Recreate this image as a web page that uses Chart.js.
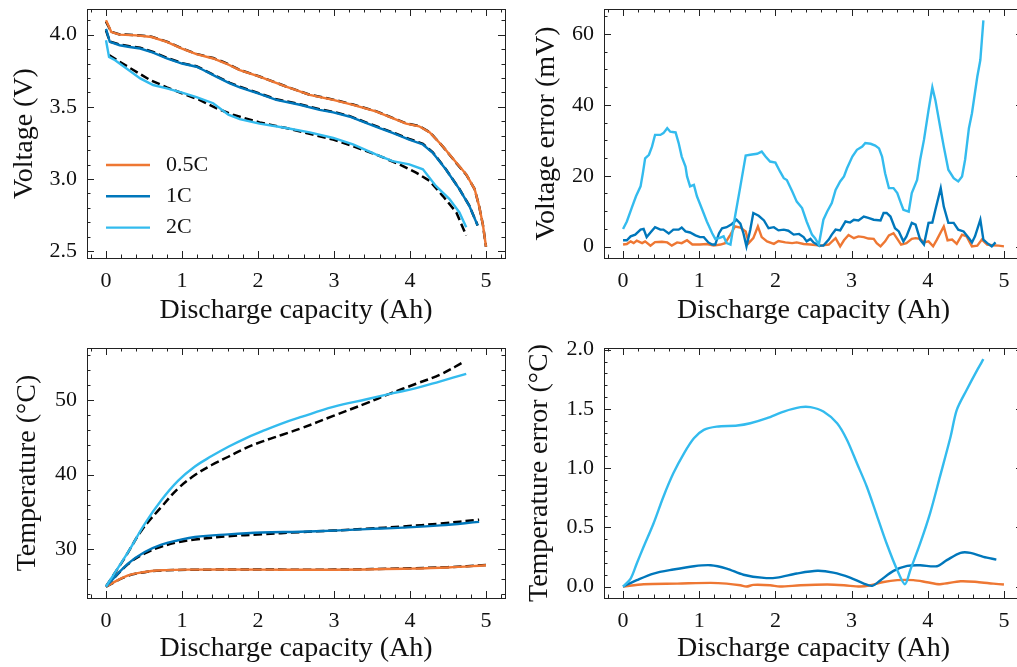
<!DOCTYPE html>
<html>
<head>
<meta charset="utf-8">
<script src="https://cdn.jsdelivr.net/npm/chart.js@4.4.0/dist/chart.umd.min.js"></script>
<style>
  html, body { margin: 0; padding: 0; background: #fff; overflow: hidden; width: 1017px; height: 667px; }
  canvas { position: absolute; }
</style>
</head>
<body>
<canvas id="voltage" width="510" height="330" style="left:0;top:0"></canvas>
<canvas id="voltErr" width="511" height="330" style="left:517px;top:0"></canvas>
<canvas id="temp" width="510" height="337" style="left:0;top:330px"></canvas>
<canvas id="tempErr" width="511" height="337" style="left:517px;top:330px"></canvas>
<script>
// ---- data ----
const seriesNames = ['0.5C', '1C', '2C'];
const capTicks = [0, 1, 2, 3, 4, 5];
const voltTicks = [2.5, 3.0, 3.5, 4.0];
const voltErrTicks = [0, 20, 40, 60];
const tempTicks = [30, 40, 50];
const tempErrTicks = [0, 0.5, 1.0, 1.5, 2.0];

// voltage (V), model = solid, measured = dashed
const capV05 = [0, 0.07, 0.18, 0.4, 0.6, 0.8, 1.0, 1.19, 1.41, 1.58, 1.76, 2.02, 2.37, 2.68, 2.99, 3.25, 3.55, 3.77, 3.95, 4.12, 4.26, 4.43, 4.61, 4.74, 4.85, 4.91, 4.96, 5.0];
const volt05Sim = [4.10, 4.018, 4.0, 3.995, 3.984, 3.95, 3.904, 3.865, 3.835, 3.80, 3.755, 3.709, 3.64, 3.583, 3.548, 3.514, 3.468, 3.422, 3.383, 3.365, 3.323, 3.227, 3.112, 3.032, 2.93, 2.81, 2.68, 2.53];
const volt05Exp = [4.09, 4.02, 4.002, 3.997, 3.986, 3.952, 3.905, 3.867, 3.838, 3.803, 3.756, 3.71, 3.641, 3.584, 3.55, 3.516, 3.47, 3.423, 3.385, 3.367, 3.324, 3.226, 3.11, 3.03, 2.93, 2.81, 2.68, 2.53];

const capV1 = [0, 0.05, 0.18, 0.31, 0.45, 0.62, 0.8, 1.0, 1.19, 1.28, 1.45, 1.63, 1.76, 2.02, 2.24, 2.55, 2.81, 2.99, 3.2, 3.42, 3.6, 3.77, 3.99, 4.17, 4.3, 4.47, 4.65, 4.78, 4.89];
const volt1Sim = [4.04, 3.95, 3.927, 3.915, 3.904, 3.876, 3.835, 3.80, 3.778, 3.755, 3.709, 3.663, 3.635, 3.589, 3.548, 3.514, 3.479, 3.461, 3.433, 3.388, 3.353, 3.319, 3.273, 3.239, 3.181, 3.067, 2.929, 2.814, 2.677];
const volt1Exp = [4.03, 3.952, 3.932, 3.92, 3.909, 3.88, 3.84, 3.803, 3.781, 3.758, 3.712, 3.666, 3.64, 3.593, 3.552, 3.518, 3.484, 3.465, 3.437, 3.392, 3.357, 3.323, 3.277, 3.244, 3.184, 3.069, 2.93, 2.815, 2.678];

const capV2 = [0, 0.04, 0.12, 0.27, 0.45, 0.62, 0.8, 1.0, 1.19, 1.41, 1.61, 1.76, 2.02, 2.37, 2.68, 2.99, 3.25, 3.55, 3.77, 3.99, 4.17, 4.34, 4.52, 4.65, 4.74];
const volt2Sim = [3.961, 3.846, 3.823, 3.766, 3.697, 3.651, 3.628, 3.599, 3.567, 3.525, 3.445, 3.415, 3.383, 3.353, 3.323, 3.284, 3.239, 3.170, 3.124, 3.101, 3.067, 2.952, 2.86, 2.768, 2.665];
const capV2Exp = [0.04, 0.18, 0.36, 0.58, 0.8, 1.0, 1.23, 1.45, 1.67, 2.02, 2.37, 2.72, 2.99, 3.25, 3.55, 3.86, 4.08, 4.26, 4.43, 4.61, 4.74];
const volt2Exp = [3.858, 3.812, 3.755, 3.686, 3.635, 3.594, 3.548, 3.491, 3.445, 3.392, 3.353, 3.307, 3.273, 3.227, 3.170, 3.101, 3.044, 2.986, 2.883, 2.768, 2.608];

// voltage error (mV)
const capVe05 = [0, 0.05, 0.1, 0.14, 0.18, 0.25, 0.29, 0.36, 0.42, 0.51, 0.58, 0.64, 0.71, 0.77, 0.84, 0.91, 1.01, 1.1, 1.19, 1.28, 1.34, 1.41, 1.47, 1.54, 1.61, 1.65, 1.71, 1.77, 1.82, 1.89, 1.98, 2.04, 2.13, 2.22, 2.28, 2.37, 2.46, 2.59, 2.7, 2.79, 2.85, 2.9, 2.96, 3.03, 3.09, 3.16, 3.22, 3.29, 3.33, 3.38, 3.44, 3.49, 3.55, 3.6, 3.65, 3.72, 3.79, 3.84, 3.9, 3.95, 4.01, 4.07, 4.12, 4.21, 4.26, 4.32, 4.38, 4.45, 4.51, 4.58, 4.65, 4.71, 4.78, 4.84, 4.93, 5.0];
const errV05 = [0.6, 0.75, 1.5, 1.0, 1.7, 1.0, 1.5, 0.3, 1.3, 1.4, 1.2, 0.3, 1.2, 1.0, 1.8, 0.6, 0.6, 0.75, 0.3, 0.6, 1.0, 3.4, 5.7, 5.4, 4.3, 1.0, 2.4, 5.7, 2.7, 1.5, 0.8, 1.6, 1.2, 1.0, 1.2, 0.75, 0.6, 0.3, 0.6, 2.4, 0.1, 1.8, 3.3, 2.4, 2.9, 2.7, 2.3, 2.2, 1.0, 0.1, 1.5, 3.2, 3.8, 2.2, 0.6, 1.0, 2.2, 2.4, 2.2, 1.2, 1.5, 0.1, 2.0, 5.7, 1.8, 2.0, 0.8, 3.4, 2.9, 0.1, 0.3, 2.0, 0.6, 0.4, 0.3, 0.1];
const capVe1 = [0, 0.05, 0.1, 0.16, 0.23, 0.27, 0.31, 0.36, 0.42, 0.49, 0.53, 0.6, 0.66, 0.73, 0.77, 0.82, 0.88, 0.95, 1.01, 1.06, 1.12, 1.17, 1.21, 1.26, 1.3, 1.36, 1.43, 1.49, 1.54, 1.58, 1.62, 1.67, 1.71, 1.78, 1.85, 1.91, 1.98, 2.04, 2.11, 2.17, 2.24, 2.31, 2.37, 2.41, 2.46, 2.5, 2.57, 2.63, 2.7, 2.74, 2.79, 2.85, 2.92, 2.98, 3.03, 3.09, 3.16, 3.22, 3.29, 3.38, 3.42, 3.46, 3.51, 3.57, 3.62, 3.68, 3.72, 3.79, 3.84, 3.9, 3.95, 4.01, 4.06, 4.1, 4.17, 4.21, 4.27, 4.34, 4.4, 4.47, 4.54, 4.58, 4.62, 4.69, 4.73, 4.78, 4.84, 4.89];
const errV1 = [1.8, 1.8, 2.9, 3.4, 4.8, 5.0, 2.7, 4.0, 5.5, 4.8, 4.8, 3.7, 4.8, 4.8, 5.4, 4.3, 4.0, 3.2, 2.7, 2.7, 1.2, 0.6, 0.6, 3.8, 5.2, 5.5, 6.4, 7.6, 6.5, 3.8, 0.1, 4.8, 9.5, 8.7, 7.4, 5.2, 5.5, 4.6, 4.8, 4.5, 3.4, 3.6, 2.7, 1.5, 2.2, 1.2, 0.3, 0.3, 2.0, 3.4, 4.8, 4.6, 7.1, 6.8, 7.6, 7.4, 8.5, 8.1, 7.6, 7.4, 9.5, 9.5, 8.5, 5.2, 4.3, 1.5, 2.9, 6.7, 6.2, 2.0, 0.6, 6.7, 6.8, 10.4, 16.5, 11.3, 6.7, 6.7, 4.8, 4.3, 2.4, 1.2, 2.9, 7.6, 2.0, 1.0, 0.1, 1.2];
const capVe2 = [0, 0.05, 0.12, 0.17, 0.23, 0.26, 0.29, 0.34, 0.38, 0.42, 0.49, 0.53, 0.58, 0.62, 0.69, 0.73, 0.77, 0.82, 0.84, 0.88, 0.93, 0.97, 1.04, 1.1, 1.17, 1.21, 1.26, 1.32, 1.36, 1.41, 1.47, 1.54, 1.61, 1.67, 1.76, 1.82, 1.87, 1.93, 2.0, 2.06, 2.11, 2.15, 2.22, 2.28, 2.35, 2.41, 2.48, 2.52, 2.57, 2.63, 2.68, 2.74, 2.79, 2.85, 2.9, 2.94, 3.01, 3.07, 3.14, 3.18, 3.25, 3.31, 3.36, 3.4, 3.44, 3.49, 3.55, 3.6, 3.64, 3.68, 3.75, 3.79, 3.86, 3.9, 3.95, 4.01, 4.06, 4.1, 4.17, 4.21, 4.27, 4.34, 4.4, 4.45, 4.49, 4.54, 4.58, 4.65, 4.69, 4.73];
const errV2 = [5.0, 7.1, 11.3, 14.2, 17, 20.7, 24.9, 25.9, 28.2, 31.5, 31.5, 32, 33.4, 32.4, 32.2, 29.2, 25.4, 22.6, 19.8, 17, 17.4, 14.2, 10.4, 7.1, 3.8, 2.2, 2.4, 2.9, 1.0, 0.6, 8.5, 17, 25.7, 25.9, 26.2, 26.8, 25.4, 24, 23.7, 21.2, 19.3, 18.8, 15.6, 12.7, 10.9, 7.1, 3.4, 2.4, 0.6, 7.6, 9.9, 12.3, 16, 18.4, 19.8, 22.1, 25.4, 27.3, 28.2, 29.2, 29, 28.5, 27.7, 25.4, 20.7, 16.5, 16.5, 15.1, 12.7, 10.4, 9.9, 15.1, 18.8, 24.5, 30.1, 38.5, 44.9, 41.3, 32.9, 28.2, 21.7, 19.3, 18.4, 19.8, 24.5, 33.4, 37.6, 47.9, 52.6, 63.8];

// temperature (°C)
const capT05 = [0, 0.29, 0.51, 0.73, 1.17, 2.0, 3.0, 4.0, 4.5, 5.0];
const temp05Sim = [25, 26.5, 26.95, 27.18, 27.27, 27.27, 27.25, 27.4, 27.55, 27.85];
const temp05Exp = [25, 26.45, 26.92, 27.15, 27.25, 27.27, 27.27, 27.45, 27.6, 27.88];
const capT1 = [0, 0.29, 0.51, 0.73, 0.95, 1.17, 1.61, 2.05, 2.55, 2.99, 3.43, 3.9, 4.4, 4.91];
const temp1Sim = [25, 28.08, 29.64, 30.63, 31.21, 31.65, 32.0, 32.24, 32.35, 32.5, 32.7, 32.9, 33.2, 33.67];
const temp1Exp = [25, 28.0, 29.45, 30.35, 30.95, 31.3, 31.75, 32.0, 32.3, 32.5, 32.75, 33.05, 33.45, 33.97];
const capT2 = [0, 0.29, 0.51, 0.73, 0.95, 1.17, 1.39, 1.61, 1.83, 2.05, 2.31, 2.57, 2.99, 3.43, 3.78, 4.08, 4.39, 4.74];
const temp2Sim = [25, 29.6, 33.4, 36.6, 39.2, 41.1, 42.5, 43.75, 44.85, 45.8, 46.85, 47.75, 49.1, 50.13, 50.94, 51.61, 52.5, 53.54];
const capT2Exp = [0, 0.25, 0.47, 0.73, 0.95, 1.17, 1.39, 1.61, 1.83, 2.05, 2.31, 2.57, 2.99, 3.43, 3.73, 4.08, 4.39, 4.72];
const temp2Exp = [25, 28.9, 32.55, 35.69, 38.16, 39.95, 41.3, 42.41, 43.54, 44.43, 45.33, 46.23, 47.89, 49.6, 50.85, 52.2, 53.4, 55.2];

// temperature error (°C)
const capTe05 = [0, 0.27, 0.71, 1.15, 1.36, 1.54, 1.62, 1.71, 1.93, 2.06, 2.33, 2.68, 2.9, 3.11, 3.25, 3.42, 3.6, 3.81, 3.99, 4.16, 4.43, 4.65, 4.86, 5.0];
const errT05 = [0, 0.02, 0.025, 0.031, 0.025, 0.011, 0.0, 0.014, 0.011, 0.0, 0.011, 0.017, 0.011, 0.0, 0.011, 0.039, 0.054, 0.054, 0.037, 0.02, 0.045, 0.039, 0.025, 0.017];
const capTe1 = [0, 0.18, 0.4, 0.66, 0.93, 1.15, 1.36, 1.58, 1.85, 2.02, 2.28, 2.55, 2.76, 2.98, 3.16, 3.27, 3.38, 3.55, 3.73, 3.9, 4.12, 4.25, 4.43, 4.56, 4.73, 4.9];
const errT1 = [0, 0.054, 0.11, 0.144, 0.172, 0.18, 0.152, 0.10, 0.073, 0.076, 0.11, 0.133, 0.118, 0.076, 0.025, 0.006, 0.054, 0.133, 0.175, 0.18, 0.172, 0.223, 0.285, 0.285, 0.251, 0.228];
const capTe2 = [0, 0.1, 0.18, 0.27, 0.4, 0.53, 0.66, 0.8, 0.93, 1.06, 1.23, 1.5, 1.67, 1.89, 2.11, 2.33, 2.46, 2.63, 2.81, 2.94, 3.07, 3.2, 3.33, 3.46, 3.6, 3.7, 3.77, 3.9, 4.03, 4.16, 4.3, 4.38, 4.51, 4.65, 4.73];
const errT2 = [0, 0.068, 0.195, 0.336, 0.533, 0.759, 0.956, 1.125, 1.252, 1.323, 1.351, 1.36, 1.379, 1.422, 1.478, 1.515, 1.515, 1.478, 1.379, 1.238, 1.041, 0.843, 0.604, 0.364, 0.138, 0.02, 0.138, 0.364, 0.618, 0.928, 1.267, 1.49, 1.66, 1.83, 1.92];

// ---- styling ----
const ORANGE = '#EE7733', BLUE = '#0077BB', CYAN = '#33BBEE';
const seriesColors = [ORANGE, BLUE, CYAN];
const FONT = '"Liberation Serif", "Times New Roman", serif';

Chart.defaults.font.family = FONT;
Chart.defaults.color = '#111';

const pts = (xs, ys) => xs.map((x, i) => ({x: x, y: ys[i]}));

function solid(xs, ys, color, extra) {
  return Object.assign({data: pts(xs, ys), borderColor: color, borderWidth: 2.4,
    pointRadius: 0, fill: false, tension: 0}, extra || {});
}
function dashed(xs, ys, extra) {
  return Object.assign({data: pts(xs, ys), borderColor: '#000', borderWidth: 2.5,
    borderDash: [8.5, 4], pointRadius: 0, fill: false, tension: 0}, extra || {});
}

function minorVals(scale, step) {
  const out = [];
  for (let i = Math.ceil(scale.min / step - 1e-9); i * step <= scale.max + 1e-9; i++) out.push(i * step);
  return out;
}

// inward ticks on all four sides + box frame (matplotlib look)
const frameTicks = {
  id: 'frameTicks',
  afterDraw(chart, args, o) {
    const {ctx, chartArea: a} = chart;
    const sx = chart.scales.x, sy = chart.scales.y;
    ctx.save();
    ctx.strokeStyle = '#222';
    ctx.lineWidth = 1;
    ctx.beginPath();
    const mark = (vals, scale, len) => {
      vals.forEach(v => {
        const p = Math.round(scale.getPixelForValue(v)) + 0.5;
        if (scale.isHorizontal()) {
          ctx.moveTo(p, a.bottom); ctx.lineTo(p, a.bottom - len);
          ctx.moveTo(p, a.top); ctx.lineTo(p, a.top + len);
        } else {
          ctx.moveTo(a.left, p); ctx.lineTo(a.left + len, p);
          ctx.moveTo(a.right, p); ctx.lineTo(a.right - len, p);
        }
      });
    };
    mark(sx.ticks.map(t => t.value), sx, 7);
    mark(minorVals(sx, o.xMinor), sx, 3.5);
    mark(sy.ticks.map(t => t.value), sy, 7);
    mark(minorVals(sy, o.yMinor), sy, 3.5);
    ctx.stroke();
    ctx.strokeRect(Math.round(a.left) + 0.5, Math.round(a.top) + 0.5,
      Math.round(a.right - a.left), Math.round(a.bottom - a.top));
    ctx.restore();
  }
};

// legend drawn inside the plot area
const insideLegend = {
  id: 'insideLegend',
  afterDraw(chart, args, o) {
    if (!o.labels) return;
    const {ctx, chartArea: a} = chart;
    ctx.save();
    ctx.font = '22px ' + FONT;
    ctx.textBaseline = 'middle';
    o.labels.forEach((lab, i) => {
      const y = a.top + o.top + i * o.gap;
      ctx.strokeStyle = o.colors[i];
      ctx.lineWidth = 2.4;
      ctx.beginPath();
      ctx.moveTo(a.left + o.left, y);
      ctx.lineTo(a.left + o.left + 44, y);
      ctx.stroke();
      ctx.fillStyle = '#111';
      ctx.fillText(lab, a.left + o.left + 60, y);
    });
    ctx.restore();
  }
};

function makeChart(id, datasets, s) {
  return new Chart(document.getElementById(id), {
    type: 'line',
    data: {datasets: datasets},
    plugins: [frameTicks, insideLegend],
    options: {
      responsive: false,
      animation: false,
      events: [],
      layout: {padding: {left: 0, top: s.padTop, right: 5, bottom: 0}},
      plugins: {
        legend: {display: false},
        tooltip: {enabled: false},
        frameTicks: {xMinor: 0.2, yMinor: s.yMinor},
        insideLegend: s.legend || {}
      },
      scales: {
        x: {
          type: 'linear', min: -0.25, max: 5.25,
          afterBuildTicks: sc => { sc.ticks = capTicks.map(v => ({value: v})); },
          afterFit: sc => { sc.height = s.xAxisH; sc.paddingLeft = 0; sc.paddingRight = 0; },
          grid: {display: false, drawTicks: false},
          border: {display: false},
          ticks: {padding: 10, autoSkip: false, maxRotation: 0, font: {size: 22},
            callback: v => v.toFixed(0)},
          title: {display: true, text: 'Discharge capacity (Ah)', font: {size: 28},
            padding: {top: 0, bottom: s.xTitlePad}}
        },
        y: {
          type: 'linear', min: s.yMin, max: s.yMax,
          afterBuildTicks: sc => { sc.ticks = s.yTicks.map(v => ({value: v})); },
          afterFit: sc => { sc.width = 87; sc.paddingTop = 0; sc.paddingBottom = 0; },
          grid: {display: false, drawTicks: false},
          border: {display: false},
          ticks: {padding: 10, autoSkip: false, font: {size: 22},
            callback: v => v.toFixed(s.yDec)},
          title: {display: true, text: s.yTitle, font: {size: 28},
            padding: {top: s.yTitlePad, bottom: 0}}
        }
      }
    }
  });
}

// top left: voltage
makeChart('voltage', [
  solid(capV2, volt2Sim, CYAN),
  solid(capV1, volt1Sim, BLUE),
  solid(capV05, volt05Sim, ORANGE),
  dashed(capV05, volt05Exp),
  dashed(capV1, volt1Exp),
  dashed(capV2Exp, volt2Exp)
], {padTop: 9, xAxisH: 72, xTitlePad: 3, yMin: 2.452, yMax: 4.178, yTicks: voltTicks, yDec: 1,
    yMinor: 0.1, yTitle: 'Voltage (V)', yTitlePad: 8,
    legend: {labels: seriesNames, colors: seriesColors, left: 19, top: 156, gap: 31.3}});

// top right: voltage error
makeChart('voltErr', [
  solid(capVe2, errV2, CYAN),
  solid(capVe1, errV1, BLUE),
  solid(capVe05, errV05, ORANGE)
], {padTop: 9, xAxisH: 72, xTitlePad: 3, yMin: -3.19, yMax: 66.99, yTicks: voltErrTicks, yDec: 0,
    yMinor: 5, yTitle: 'Voltage error (mV)', yTitlePad: 13});

// bottom left: temperature
makeChart('temp', [
  solid(capT2, temp2Sim, CYAN, {tension: 0.4}),
  solid(capT1, temp1Sim, BLUE, {tension: 0.4}),
  solid(capT05, temp05Sim, ORANGE, {tension: 0.4}),
  dashed(capT05, temp05Exp, {tension: 0.4}),
  dashed(capT1, temp1Exp, {tension: 0.4}),
  dashed(capT2Exp, temp2Exp, {tension: 0.4})
], {padTop: 18, xAxisH: 69, xTitlePad: 2, yMin: 23.46, yMax: 57.0, yTicks: tempTicks, yDec: 0,
    yMinor: 2, yTitle: 'Temperature (°C)', yTitlePad: 11});

// bottom right: temperature error
makeChart('tempErr', [
  solid(capTe2, errT2, CYAN, {tension: 0.3}),
  solid(capTe1, errT1, BLUE, {tension: 0.3}),
  solid(capTe05, errT05, ORANGE, {tension: 0.3})
], {padTop: 18, xAxisH: 69, xTitlePad: 2, yMin: -0.0965, yMax: 2.0145, yTicks: tempErrTicks, yDec: 1,
    yMinor: 0.1, yTitle: 'Temperature error (°C)', yTitlePad: 6});
</script>
</body>
</html>
